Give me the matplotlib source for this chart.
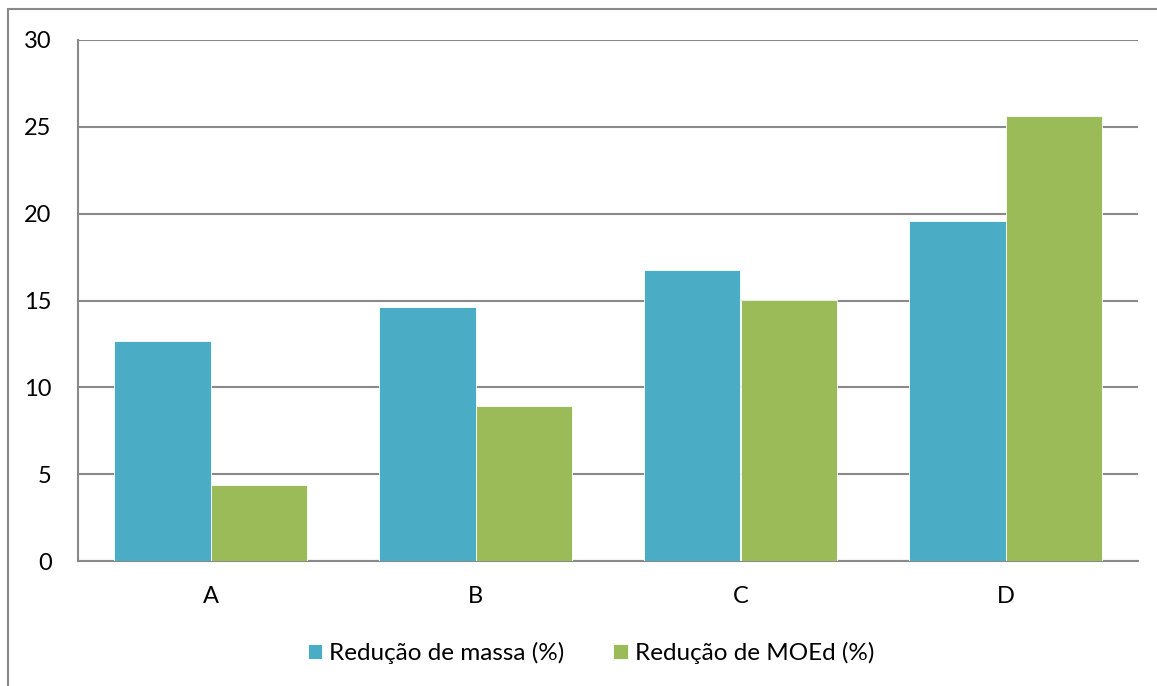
import matplotlib.pyplot as plt
import numpy as np
from matplotlib.patches import Rectangle

categories = ["A", "B", "C", "D"]
massa = [12.67, 14.62, 16.75, 19.57]
moed = [4.38, 8.92, 15.03, 25.62]
series_labels = ["Redução de massa (%)", "Redução de MOEd (%)"]

plt.rcParams["font.family"] = ["Lato", "DejaVu Sans"]

fig = plt.figure(figsize=(11.57, 6.86), dpi=100)
ax = fig.add_axes([78 / 1157, 1 - 561 / 686, (1138 - 78) / 1157, (561 - 40) / 686])

x = np.arange(len(categories))
width = 0.365
ax.bar(x - width / 2, massa, width=width, color="#4BACC6", edgecolor="#ffffff",
       linewidth=0.6, label=series_labels[0], zorder=3)
ax.bar(x + width / 2, moed, width=width, color="#9BBB59", edgecolor="#ffffff",
       linewidth=0.6, label=series_labels[1], zorder=3)

ax.set_xlim(-0.5, 3.5)
ax.set_ylim(0, 30)
ax.set_yticks(range(0, 31, 5))
ax.set_xticks(x)
ax.set_xticklabels(categories)
ax.tick_params(axis="both", length=0, labelsize=17, colors="#000000")
ax.tick_params(axis="y", pad=19)
ax.tick_params(axis="x", pad=18)
ax.grid(axis="y", color="#898989", linewidth=1.5, zorder=0)
for side in ["top", "right"]:
    ax.spines[side].set_visible(False)
for side in ["left", "bottom"]:
    ax.spines[side].set_color("#898989")
    ax.spines[side].set_linewidth(1.5)

fig.legend(loc="center", bbox_to_anchor=(591 / 1157, 1 - 653 / 686), ncol=2,
           frameon=False, fontsize=17.5, handlelength=0.6, handleheight=0.6,
           handletextpad=0.3, columnspacing=2.0)

# outer chart border
fig.patches.append(Rectangle((8 / 1157, -0.1), 1.2, 1 - 9 / 686 + 0.1,
                             transform=fig.transFigure, fill=False,
                             edgecolor="#898989", linewidth=1.5))

fig.savefig("out.png", dpi=100)
